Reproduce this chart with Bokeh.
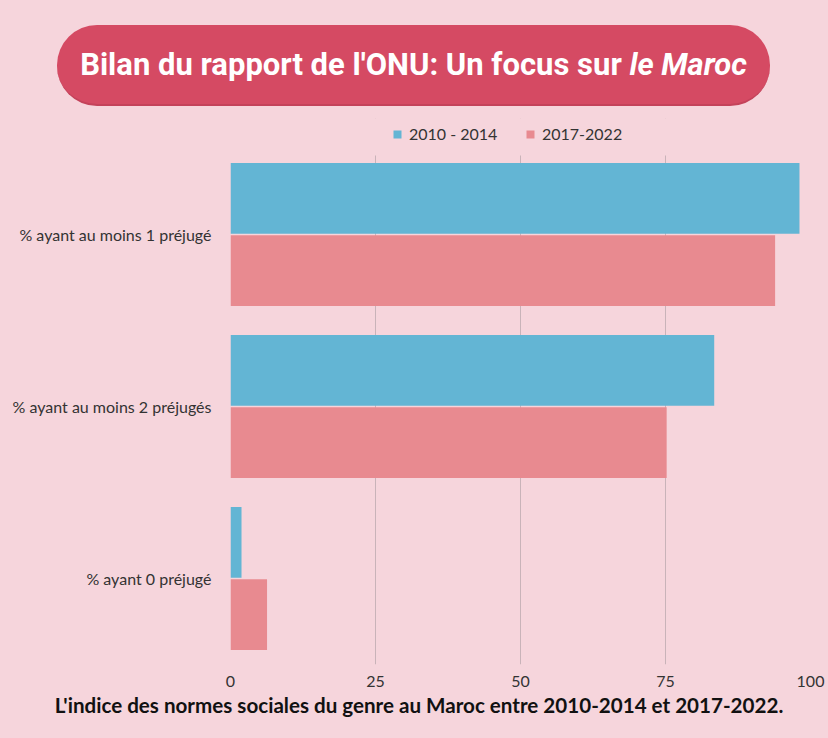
import numpy as np
from bokeh.plotting import figure
from bokeh.layouts import column
from bokeh.models import (Range1d, Legend, LegendItem, ColumnDataSource, FixedTicker, Div,
                          BoxAnnotation)
from bokeh.transform import dodge
from bokeh.embed import file_html
from bokeh.resources import INLINE

# ---------------- data ----------------
categories = ["% ayant au moins 1 préjugé", "% ayant au moins 2 préjugés", "% ayant 0 préjugé"]
series_names = ["2010 - 2014", "2017-2022"]
values_2010_2014 = [98.1, 83.4, 1.9]
values_2017_2022 = [93.9, 75.2, 6.3]
x_ticks = [0, 25, 50, 75, 100]
title_main = "Bilan du rapport de l'ONU: Un focus sur"
title_italic = "le Maroc"
caption = "L'indice des normes sociales du genre au Maroc entre 2010-2014 et 2017-2022."

# ---------------- style ----------------
BG = "#f6d5dc"
BLUE = "#63b5d4"
PINK = "#e88a90"
BOX = "#d54a63"
TXT = "#333333"
FONT = "Lato"
TFONT = "Roboto"

# ---------------- header ----------------
header_html = (
    '<div style="margin:20px 0 0 52px;width:713px;height:81px;box-sizing:border-box;'
    'background:%s;border-radius:40px;border-bottom:2px solid #c4425a;display:flex;'
    'align-items:center;justify-content:center;color:#ffffff;font-family:%s;'
    'font-weight:bold;font-size:31px;line-height:1;white-space:nowrap;">'
    '%s&nbsp;<i>%s</i></div>' % (BOX, TFONT, title_main, title_italic)
)
header = Div(text=header_html, width=828, height=108, styles={"background-color": BG})

# ---------------- main chart ----------------
n = len(categories)
pos = list(range(n - 1, -1, -1))  # first category at the top
source = ColumnDataSource(dict(pos=pos, cat=categories, a=values_2010_2014, b=values_2017_2022))

p = figure(width=828, height=572, x_range=Range1d(0, 100), y_range=Range1d(-0.5, n - 0.5 + 30 / 172),
           output_backend="svg", toolbar_location=None,
           min_border_left=230, min_border_right=18, min_border_top=0, min_border_bottom=26,
           background_fill_color=BG, border_fill_color=BG, outline_line_color=None)

r1 = p.hbar(y=dodge('pos', 0.21), left=0, right='a', height=0.41,
            fill_color=BLUE, line_color=None, source=source)
r2 = p.hbar(y=dodge('pos', -0.21), left=0, right='b', height=0.41,
            fill_color=PINK, line_color=None, source=source)

p.xaxis.ticker = FixedTicker(ticks=x_ticks)
p.xgrid.ticker = FixedTicker(ticks=x_ticks)
p.xgrid.grid_line_color = "#c9b3b9"
p.ygrid.visible = False
p.yaxis.ticker = FixedTicker(ticks=pos)
p.yaxis.major_label_overrides = {int(k): c for k, c in zip(pos, categories)}
for ax in (p.xaxis, p.yaxis):
    ax.axis_line_color = None
    ax.major_tick_line_color = None
    ax.minor_tick_line_color = None
    ax.major_label_text_font = FONT
    ax.major_label_text_font_size = "16px"
    ax.major_label_text_color = TXT
p.xaxis.major_label_standoff = 5
p.yaxis.major_label_standoff = 13

# keep the legend strip above the bars free of grid lines
p.add_layout(BoxAnnotation(bottom=n - 0.54, fill_color=BG, fill_alpha=1.0, line_color=None))

legend = Legend(items=[LegendItem(label=series_names[0], renderers=[r1]),
                       LegendItem(label=series_names[1], renderers=[r2])],
                location=(162, 521), orientation="horizontal", padding=0, margin=0, spacing=10,
                label_standoff=7, label_width=106, glyph_width=10, glyph_height=10,
                background_fill_alpha=0, border_line_color=None,
                label_text_font=FONT, label_text_font_size="16px", label_text_color=TXT)
p.add_layout(legend)

# ---------------- caption ----------------
footer_html = (
    '<div style="width:828px;padding-top:0px;text-align:center;font-family:%s;font-weight:bold;'
    'font-size:20.6px;line-height:20px;color:#111111;white-space:nowrap;">%s</div>' % (FONT, caption)
)
footer = Div(text=footer_html, width=828, height=48, styles={"background-color": BG})

layout = column(header, p, footer, spacing=0, styles={"background-color": BG})
html = file_html(layout, INLINE)
html = html.replace("<body>", '<body style="background:%s;">' % BG, 1)
open("out.html", "w").write(html)
